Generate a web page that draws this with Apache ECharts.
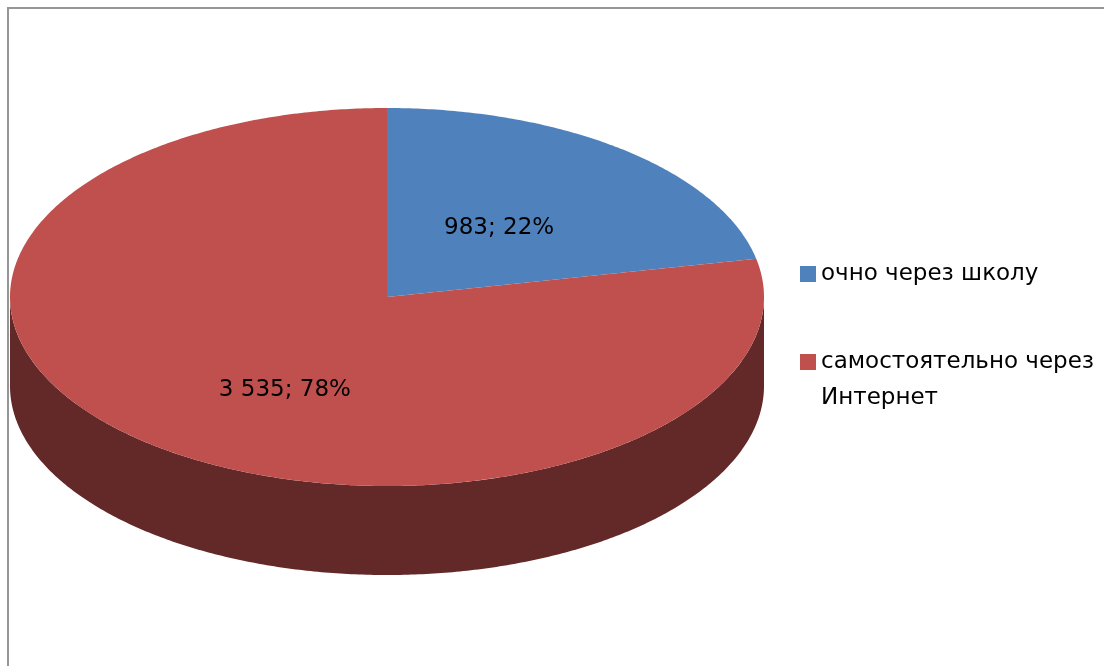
<!DOCTYPE html>
<html>
<head>
<meta charset="utf-8">
<script src="https://cdn.jsdelivr.net/npm/echarts@6/dist/echarts.min.js"></script>
<style>
    html, body { margin: 0; padding: 0; background: #fff; }
    #chart { width: 1104px; height: 666px; }
</style>
</head>
<body>
<div id="chart"></div>
<script>
// данные
var categories = ["очно через школу", "самостоятельно через Интернет"];
var values = [983, 3535];
var topColors = ["#4F81BD", "#C0504D"];
var sideColors = ["#2C4D75", "#632828"];

var total = values.reduce(function(a, b) { return a + b; }, 0);

// геометрия "3D" эллипса
var cx = 387, cy = 297, rx = 377, ry = 189, depth = 89;
var FONT = "DejaVu Sans";

function pt(a, dy) {
    return [cx + rx * Math.sin(a), cy - ry * Math.cos(a) + (dy || 0)];
}

function arc(a0, a1, dy) {
    var pts = [];
    var n = Math.max(2, Math.ceil(Math.abs(a1 - a0) / 0.01));
    for (var i = 0; i <= n; i++) {
        pts.push(pt(a0 + (a1 - a0) * i / n, dy));
    }
    return pts;
}

function startAngle(idx) {
    var s = 0;
    for (var i = 0; i < idx; i++) s += values[i];
    return s / total * Math.PI * 2;
}

function fmtNum(v) {
    return String(v).replace(/\B(?=(\d{3})+(?!\d))/g, " ");
}

var renderSlice = function(params, api) {
    var idx = params.seriesIndex;
    var v = api.value(0);
    var a0 = startAngle(idx);
    var a1 = a0 + v / total * Math.PI * 2;
    var children = [];

    // боковая стенка (только передняя половина)
    var s = Math.max(a0, Math.PI / 2), e = Math.min(a1, Math.PI * 1.5);
    if (e > s) {
        var upper = arc(s, e, 0);
        var lower = arc(e, s, depth);
        children.push({
            type: "polygon",
            shape: { points: upper.concat(lower) },
            style: { fill: sideColors[idx] }
        });
    }

    // верхняя грань
    children.push({
        type: "polygon",
        shape: { points: [[cx, cy]].concat(arc(a0, a1, 0)) },
        style: { fill: topColors[idx] }
    });

    // подпись
    var m = (a0 + a1) / 2;
    var pct = Math.round(v / total * 100);
    children.push({
        type: "text",
        x: cx + rx * 0.45 * Math.sin(m) + 5,
        y: cy - ry * 0.55 * Math.cos(m) + 12,
        style: {
            text: fmtNum(v) + "; " + pct + "%",
            fill: "#000",
            font: "23px '" + FONT + "'",
            align: "center",
            verticalAlign: "middle"
        }
    });

    return { type: "group", children: children };
};

var chart = echarts.init(document.getElementById("chart"));

var series = categories.map(function(name, i) {
    return {
        name: name,
        type: "custom",
        coordinateSystem: "none",
        itemStyle: { color: topColors[i] },
        renderItem: renderSlice,
        data: [[values[i]]],
        silent: true
    };
});

chart.setOption({
    backgroundColor: "#fff",
    animation: false,
    legend: {
        orient: "vertical",
        left: 795,
        top: 251,
        itemWidth: 16,
        itemHeight: 16,
        itemGap: 16,
        icon: "rect",
        data: categories,
        formatter: function(name) {
            // пустая строка сверху, чтобы маркер стоял у первой строки
            return name.indexOf("Интернет") >= 0
                ? "\n" + name.replace("через Интернет", "через\nИнтернет")
                : name;
        },
        textStyle: {
            fontFamily: FONT,
            fontSize: 23,
            lineHeight: 36,
            color: "#000"
        }
    },
    graphic: [{
        type: "rect",
        shape: { x: 8, y: 8, width: 1200, height: 700 },
        style: { fill: null, stroke: "#969696", lineWidth: 2 },
        silent: true
    }],
    series: series
});
</script>
</body>
</html>
